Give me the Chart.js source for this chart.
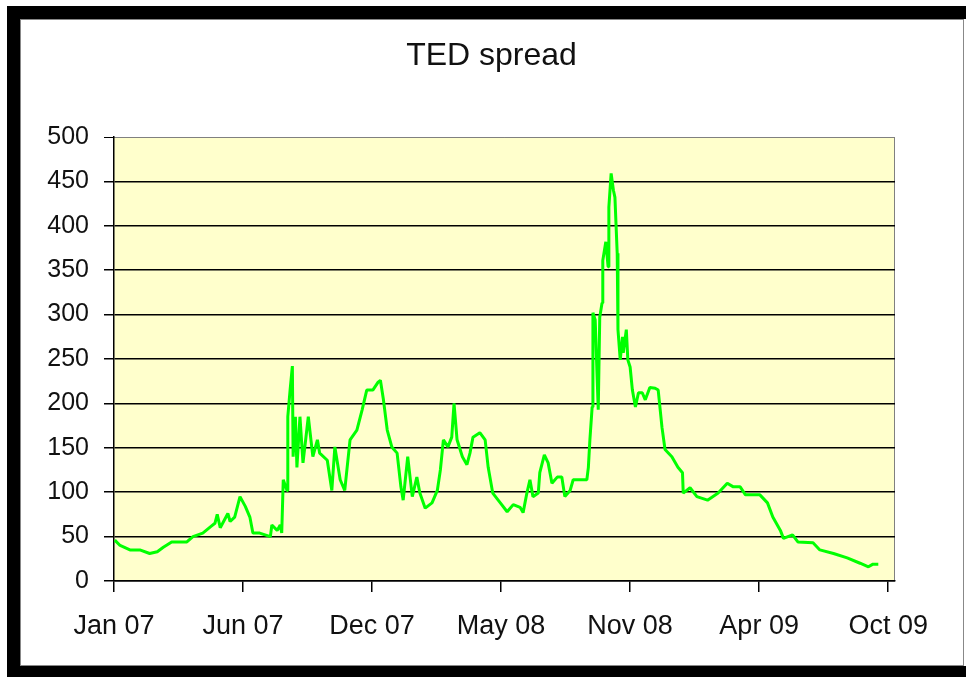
<!DOCTYPE html>
<html>
<head>
<meta charset="utf-8">
<script src="https://cdn.jsdelivr.net/npm/chart.js@4.4.0/dist/chart.umd.min.js"></script>
<style>
  html, body { margin: 0; padding: 0; background: #fff; width: 966px; height: 677px; overflow: hidden; }
  #frame { position: absolute; left: 7px; top: 6px; width: 959px; height: 671px; background: #000; }
  #inner { position: absolute; left: 20px; top: 19px; width: 944px; height: 647px; box-sizing: border-box; background: #fff; border: 1px solid #888; }
  #strip { position: absolute; left: 964px; top: 19px; width: 2px; height: 647px; background: #fff; }
  #c { position: absolute; left: 0; top: 0; }
</style>
</head>
<body>
<div id="frame"></div>
<div id="inner"></div>
<div id="strip"></div>
<canvas id="c" width="966" height="677"></canvas>
<script>
const chartTitle = 'TED spread';
const dates = [
'2007-01-02','2007-01-09','2007-01-22','2007-02-04','2007-02-17','2007-02-27','2007-03-07','2007-03-18','2007-04-07','2007-04-15',
'2007-04-28','2007-05-08','2007-05-14','2007-05-17','2007-05-21','2007-05-31','2007-06-03','2007-06-09','2007-06-16','2007-06-23',
'2007-06-29','2007-07-03','2007-07-12','2007-07-26','2007-07-28','2007-08-04','2007-08-08','2007-08-10','2007-08-12','2007-08-17',
'2007-08-18','2007-08-21','2007-08-24','2007-08-25','2007-08-28','2007-08-30','2007-09-03','2007-09-07','2007-09-14','2007-09-20',
'2007-09-26','2007-09-29','2007-10-09','2007-10-15','2007-10-19','2007-10-26','2007-11-01','2007-11-08','2007-11-17','2007-11-24',
'2007-11-30','2007-12-08','2007-12-15','2007-12-18','2007-12-22','2007-12-27','2008-01-02','2008-01-09','2008-01-14','2008-01-17',
'2008-01-23','2008-01-29','2008-02-04','2008-02-08','2008-02-15','2008-02-24','2008-03-02','2008-03-06','2008-03-10','2008-03-16',
'2008-03-21','2008-03-24','2008-03-28','2008-04-04','2008-04-10','2008-04-14','2008-04-18','2008-04-27','2008-05-04','2008-05-08',
'2008-05-14','2008-05-24','2008-06-02','2008-06-10','2008-06-19','2008-06-23','2008-06-28','2008-07-02','2008-07-06','2008-07-13',
'2008-07-15','2008-07-21','2008-07-26','2008-07-31','2008-08-07','2008-08-13','2008-08-17','2008-08-24','2008-08-28','2008-09-06',
'2008-09-15','2008-09-17','2008-09-19','2008-09-22','2008-09-23','2008-09-26','2008-09-30','2008-10-02','2008-10-05','2008-10-06',
'2008-10-10','2008-10-13','2008-10-14','2008-10-17','2008-10-20','2008-10-22','2008-10-25','2008-10-26','2008-10-29','2008-11-01',
'2008-11-02','2008-11-06','2008-11-08','2008-11-11','2008-11-14','2008-11-18','2008-11-22','2008-11-27','2008-12-01','2008-12-07',
'2008-12-14','2008-12-18','2008-12-23','2008-12-27','2009-01-05','2009-01-13','2009-01-19','2009-01-20','2009-01-29','2009-02-07',
'2009-02-21','2009-03-07','2009-03-19','2009-03-27','2009-04-05','2009-04-12','2009-05-01','2009-05-11','2009-05-18','2009-05-28',
'2009-06-01','2009-06-13','2009-06-20','2009-07-10','2009-07-19','2009-08-06','2009-08-24','2009-09-10','2009-09-21','2009-09-27',
'2009-10-04'
];
const tedSpread = [
46,40,35,35,31,33,38,44,44,50,
54,61,65,75,60,76,67,72,95,84,
72,54,54,50,63,57,63,54,114,102,
185,215,242,140,185,128,185,133,185,140,
159,144,136,102,151,114,102,159,170,193,
215,215,224,226,204,170,151,144,106,91,
140,95,117,99,82,88,102,125,159,151,
162,200,159,140,131,144,162,167,159,128,
99,88,78,86,83,77,99,114,95,99,
122,142,133,110,117,117,95,102,114,114,
114,128,159,196,302,294,193,297,313,361,
382,354,421,459,440,432,369,283,249,275,
257,283,249,241,215,196,212,212,204,218,
217,215,173,148,140,128,122,99,105,95,
91,99,110,106,106,97,97,88,72,57,
48,52,44,43,35,31,26,20,16,19,
19
];
// x-axis: days since 1 Jan 2007
const tickDays = [0, 170, 340, 510, 680, 850, 1020];
const tickLabels = ['Jan 07', 'Jun 07', 'Dec 07', 'May 08', 'Nov 08', 'Apr 09', 'Oct 09'];
const xMax = 1029;

const base = Date.UTC(2007, 0, 1);
function dayOf(s) {
  const p = s.split('-').map(Number);
  return Math.round((Date.UTC(p[0], p[1] - 1, p[2]) - base) / 86400000);
}
const points = dates.map((d, i) => ({ x: dayOf(d), y: tedSpread[i] }));

const FONT = "'Liberation Sans', Arial, sans-serif";

const plotBg = {
  id: 'plotBg',
  beforeDraw(chart) {
    const { ctx, chartArea: a } = chart;
    ctx.save();
    ctx.fillStyle = '#FFFFCC';
    ctx.fillRect(a.left, a.top, a.right - a.left, a.bottom - a.top);
    ctx.strokeStyle = '#808080';
    ctx.lineWidth = 1;
    ctx.beginPath();
    ctx.moveTo(a.left, a.top + 0.5);
    ctx.lineTo(a.right - 0.5, a.top + 0.5);
    ctx.lineTo(a.right - 0.5, a.bottom);
    ctx.stroke();
    ctx.restore();
  }
};

const titlePlugin = {
  id: 'titleText',
  afterDraw(chart) {
    const { ctx, chartArea: a } = chart;
    ctx.save();
    ctx.fillStyle = '#111';
    ctx.font = "normal 32px " + FONT;
    ctx.textAlign = 'center';
    ctx.textBaseline = 'middle';
    // centred over the chart object (white panel), above the plot area
    ctx.fillText(chartTitle, (20 + 963) / 2, a.top - 81);
    ctx.restore();
  }
};

new Chart(document.getElementById('c'), {
  type: 'line',
  data: {
    datasets: [{
      label: chartTitle,
      data: points,
      borderColor: '#00FF00',
      borderWidth: 3,
      borderJoinStyle: 'bevel',
      pointRadius: 0,
      tension: 0,
      fill: false
    }]
  },
  options: {
    responsive: false,
    devicePixelRatio: 1,
    animation: false,
    layout: { padding: { left: 0, right: 71, top: 137, bottom: 0 } },
    plugins: {
      legend: { display: false },
      tooltip: { enabled: false },
      title: { display: false }
    },
    scales: {
      x: {
        type: 'linear',
        min: 0,
        max: xMax,
        afterBuildTicks: s => { s.ticks = tickDays.map(v => ({ value: v })); },
        afterFit: s => { s.height = 96; },
        grid: { drawOnChartArea: false, drawTicks: true, tickLength: 11, color: '#000', lineWidth: 1.5 },
        border: { display: true, color: '#000', width: 1.5 },
        ticks: {
          autoSkip: false,
          maxRotation: 0,
          padding: 18,
          color: '#111',
          font: { family: FONT, size: 27 },
          callback: v => tickLabels[tickDays.indexOf(v)]
        }
      },
      y: {
        min: 0,
        max: 500,
        afterFit: s => { s.width = 114; },
        grid: {
          drawTicks: true,
          tickLength: 10,
          color: c => (c.tick && c.tick.value === 500) ? '#808080' : '#000',
          tickColor: '#000',
          lineWidth: c => (c.tick && c.tick.value === 500) ? 1 : 1.5
        },
        border: { display: true, color: '#000', width: 1.5 },
        ticks: {
          stepSize: 50,
          padding: 15,
          color: '#111',
          font: { family: FONT, size: 25 }
        }
      }
    }
  },
  plugins: [plotBg, titlePlugin]
});
</script>
</body>
</html>
